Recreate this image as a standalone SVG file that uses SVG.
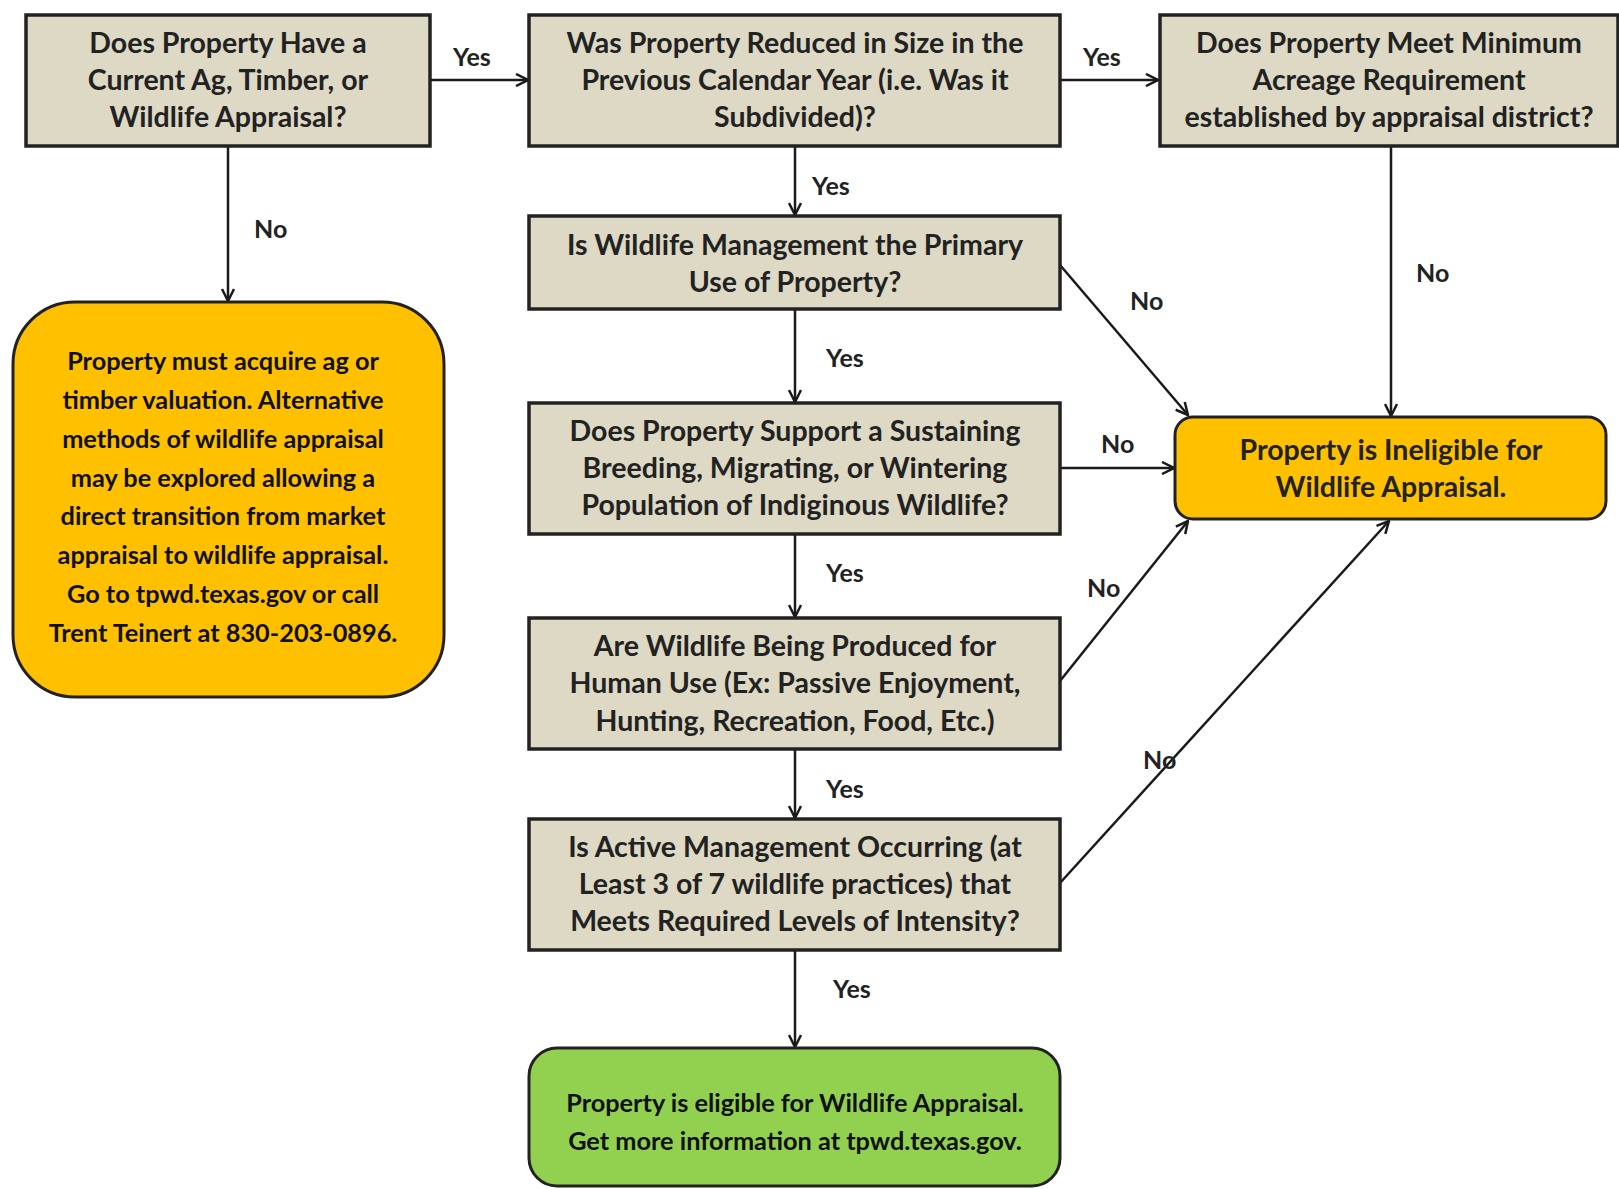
<svg xmlns="http://www.w3.org/2000/svg" width="1619" height="1189" viewBox="0 0 1619 1189">
<defs>
<marker id="arr" viewBox="0 0 14 14" refX="13" refY="7" markerWidth="14" markerHeight="14" markerUnits="userSpaceOnUse" orient="auto">
<path d="M1,1 L13,7 L1,13" fill="none" stroke="#1a1a1a" stroke-width="2.5"/>
</marker>
</defs>
<style>
.q{fill:#ddd9c4;stroke:#222;stroke-width:3.5}
.o{fill:#ffc000;stroke:#222;stroke-width:3}
.g{fill:#92d050;stroke:#222;stroke-width:3}
.t{font-family:Lato,"Liberation Sans",sans-serif;font-weight:bold;font-size:28.5px;fill:#222;text-anchor:middle}
.s{font-family:Lato,"Liberation Sans",sans-serif;font-weight:bold;font-size:25.3px;fill:#111;text-anchor:middle}
.l{font-family:Lato,"Liberation Sans",sans-serif;font-weight:bold;font-size:25px;fill:#222}
.c{stroke:#1a1a1a;stroke-width:2.5;fill:none;marker-end:url(#arr)}
</style>
<rect width="1619" height="1189" fill="#fff"/>
<g id="connectors">
<line class="c" x1="430" y1="80" x2="528" y2="80"/>
<line class="c" x1="228" y1="146" x2="228" y2="301"/>
<line class="c" x1="1060" y1="80" x2="1158" y2="80"/>
<line class="c" x1="795" y1="146" x2="795" y2="215"/>
<line class="c" x1="795" y1="309" x2="795" y2="402"/>
<line class="c" x1="795" y1="534" x2="795" y2="617"/>
<line class="c" x1="795" y1="749" x2="795" y2="818"/>
<line class="c" x1="795" y1="950" x2="795" y2="1047"/>
<line class="c" x1="1391" y1="146" x2="1391" y2="416"/>
<line class="c" x1="1060" y1="265" x2="1188" y2="415"/>
<line class="c" x1="1060" y1="468" x2="1174" y2="468"/>
<line class="c" x1="1060" y1="681" x2="1188" y2="521"/>
<line class="c" x1="1060" y1="883" x2="1389" y2="521"/>
<text class="l" x="453" y="66">Yes</text>
<text class="l" x="254" y="238">No</text>
<text class="l" x="1083" y="66">Yes</text>
<text class="l" x="812" y="195">Yes</text>
<text class="l" x="826" y="367">Yes</text>
<text class="l" x="826" y="582">Yes</text>
<text class="l" x="826" y="798">Yes</text>
<text class="l" x="833" y="998">Yes</text>
<text class="l" x="1416" y="282">No</text>
<text class="l" x="1130" y="310">No</text>
<text class="l" x="1101" y="453">No</text>
<text class="l" x="1087" y="597">No</text>
<text class="l" x="1143" y="769">No</text>
</g>
<g id="n1">
<rect class="q" x="26" y="15" width="404" height="131"/>
<text class="t" x="228" y="53">Does Property Have a</text>
<text class="t" x="228" y="90">Current Ag, Timber, or</text>
<text class="t" x="228" y="127">Wildlife Appraisal?</text>
</g>
<g id="n2">
<rect class="q" x="529" y="15" width="531" height="131"/>
<text class="t" x="795" y="53">Was Property Reduced in Size in the</text>
<text class="t" x="795" y="90">Previous Calendar Year (i.e. Was it</text>
<text class="t" x="795" y="127">Subdivided)?</text>
</g>
<g id="n3">
<rect class="q" x="1160" y="15" width="458" height="131"/>
<text class="t" x="1389" y="53">Does Property Meet Minimum</text>
<text class="t" x="1389" y="90">Acreage Requirement</text>
<text class="t" x="1389" y="127">established by appraisal district?</text>
</g>
<g id="n4">
<rect class="q" x="529" y="216" width="531" height="93"/>
<text class="t" x="795" y="255">Is Wildlife Management the Primary</text>
<text class="t" x="795" y="292">Use of Property?</text>
</g>
<g id="n5">
<rect class="q" x="529" y="403" width="531" height="131"/>
<text class="t" x="795" y="441">Does Property Support a Sustaining</text>
<text class="t" x="795" y="478">Breeding, Migrating, or Wintering</text>
<text class="t" x="795" y="515">Population of Indiginous Wildlife?</text>
</g>
<g id="n6">
<rect class="q" x="529" y="618" width="531" height="131"/>
<text class="t" x="795" y="656">Are Wildlife Being Produced for</text>
<text class="t" x="795" y="693">Human Use (Ex: Passive Enjoyment,</text>
<text class="t" x="795" y="731">Hunting, Recreation, Food, Etc.)</text>
</g>
<g id="n7">
<rect class="q" x="529" y="819" width="531" height="131"/>
<text class="t" x="795" y="857">Is Active Management Occurring (at</text>
<text class="t" x="795" y="894">Least 3 of 7 wildlife practices) that</text>
<text class="t" x="795" y="931">Meets Required Levels of Intensity?</text>
</g>
<g id="n8">
<rect class="g" x="529" y="1048" width="531" height="138" rx="28"/>
<text class="s" x="795" y="1112">Property is eligible for Wildlife Appraisal.</text>
<text class="s" x="795" y="1150">Get more information at tpwd.texas.gov.</text>
</g>
<g id="n9">
<rect class="o" x="13" y="302" width="431" height="395" rx="62"/>
<text class="s" x="223" y="370">Property must acquire ag or</text>
<text class="s" x="223" y="409">timber valuation. Alternative</text>
<text class="s" x="223" y="448">methods of wildlife appraisal</text>
<text class="s" x="223" y="487">may be explored allowing a</text>
<text class="s" x="223" y="525">direct transition from market</text>
<text class="s" x="223" y="564">appraisal to wildlife appraisal.</text>
<text class="s" x="223" y="603">Go to tpwd.texas.gov or call</text>
<text class="s" x="223" y="642">Trent Teinert at 830-203-0896.</text>
</g>
<g id="n10">
<rect class="o" x="1175" y="417" width="431" height="102" rx="18"/>
<text class="t" x="1391" y="460">Property is Ineligible for</text>
<text class="t" x="1391" y="497">Wildlife Appraisal.</text>
</g>
</svg>
